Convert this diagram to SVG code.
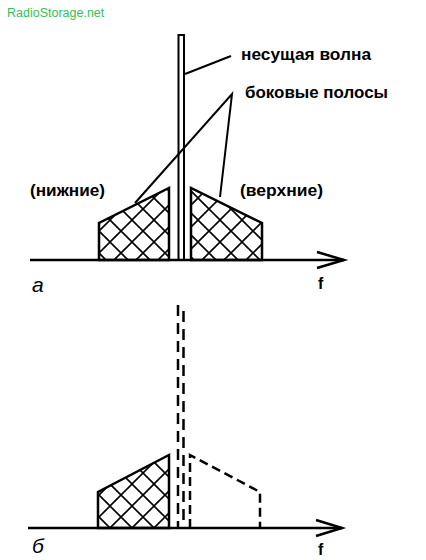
<svg xmlns="http://www.w3.org/2000/svg" width="426" height="560" viewBox="0 0 426 560">
<style>
.ln{stroke:#000;stroke-width:2.5;fill:none;stroke-linejoin:miter}
.thin{stroke:#000;stroke-width:2;fill:none}
.band{stroke:#000;stroke-width:2.5;fill:url(#hatch)}
.dash{stroke:#000;stroke-width:2.5;fill:none;stroke-dasharray:9 5}
.lbl{font-family:"Liberation Sans",Arial,sans-serif;font-weight:bold;font-size:17px;fill:#000}
.it{font-family:"Liberation Sans",Arial,sans-serif;font-style:italic;font-size:21px;fill:#000}
.f{font-family:"Liberation Sans",Arial,sans-serif;font-weight:bold;font-size:16px;fill:#000}
</style>
<defs>
<pattern id="hatch" patternUnits="userSpaceOnUse" width="22" height="22" x="0" y="0">
<path d="M0,0 L22,22 M22,0 L0,22" stroke="#000" stroke-width="1.6"/>
</pattern>
</defs>
<rect width="426" height="560" fill="#fff"/>
<text x="7" y="17" font-family="Liberation Sans,Arial,sans-serif" font-size="12.5" fill="#36c05a">RadioStorage.net</text>

<g id="axis-a">
<line class="ln" x1="30" y1="260" x2="344" y2="260"/>
<polyline class="ln" points="317,252 344,260 317,268"/>
<text class="f" x="318" y="289">f</text>
<text class="it" x="32" y="292">a</text>
</g>
<g id="carrier-a">
<rect x="178.5" y="35" width="5.5" height="225" class="thin"/>
</g>
<g id="lower-a">
<polygon class="band" points="99,260 99,223 169,188 169,260"/>
</g>
<g id="upper-a">
<polygon class="band" points="191,260 191,188 262,223 262,260"/>
</g>
<g id="labels-a">
<text class="lbl" x="241" y="60" textLength="130" lengthAdjust="spacingAndGlyphs">несущая волна</text>
<text class="lbl" x="245" y="98" textLength="143" lengthAdjust="spacingAndGlyphs">боковые полосы</text>
<text class="lbl" x="30" y="196" textLength="75" lengthAdjust="spacingAndGlyphs">(нижние)</text>
<text class="lbl" x="240" y="196" textLength="83" lengthAdjust="spacingAndGlyphs">(верхние)</text>
</g>
<g id="connectors">
<line class="thin" x1="185" y1="74" x2="231" y2="56"/>
<polyline class="thin" points="135,203 232,94 220,197"/>
</g>

<g id="axis-b">
<line class="ln" x1="28" y1="528" x2="342" y2="528"/>
<polyline class="ln" points="316,520 342,528 316,536"/>
<text class="f" x="318" y="555">f</text>
<text class="it" x="32" y="553">б</text>
</g>
<g id="lower-b">
<polygon class="band" points="98,528 98,492 169,455 169,528"/>
</g>
<g id="carrier-b">
<line class="ln" x1="178" y1="305" x2="178" y2="528" stroke-dasharray="11 7"/>
<line class="ln" x1="183.5" y1="311" x2="183.5" y2="528" stroke-dasharray="11 7"/>
</g>
<g id="upper-b">
<polyline class="dash" points="190,528 190,455 260,492 260,528"/>
</g>
</svg>
